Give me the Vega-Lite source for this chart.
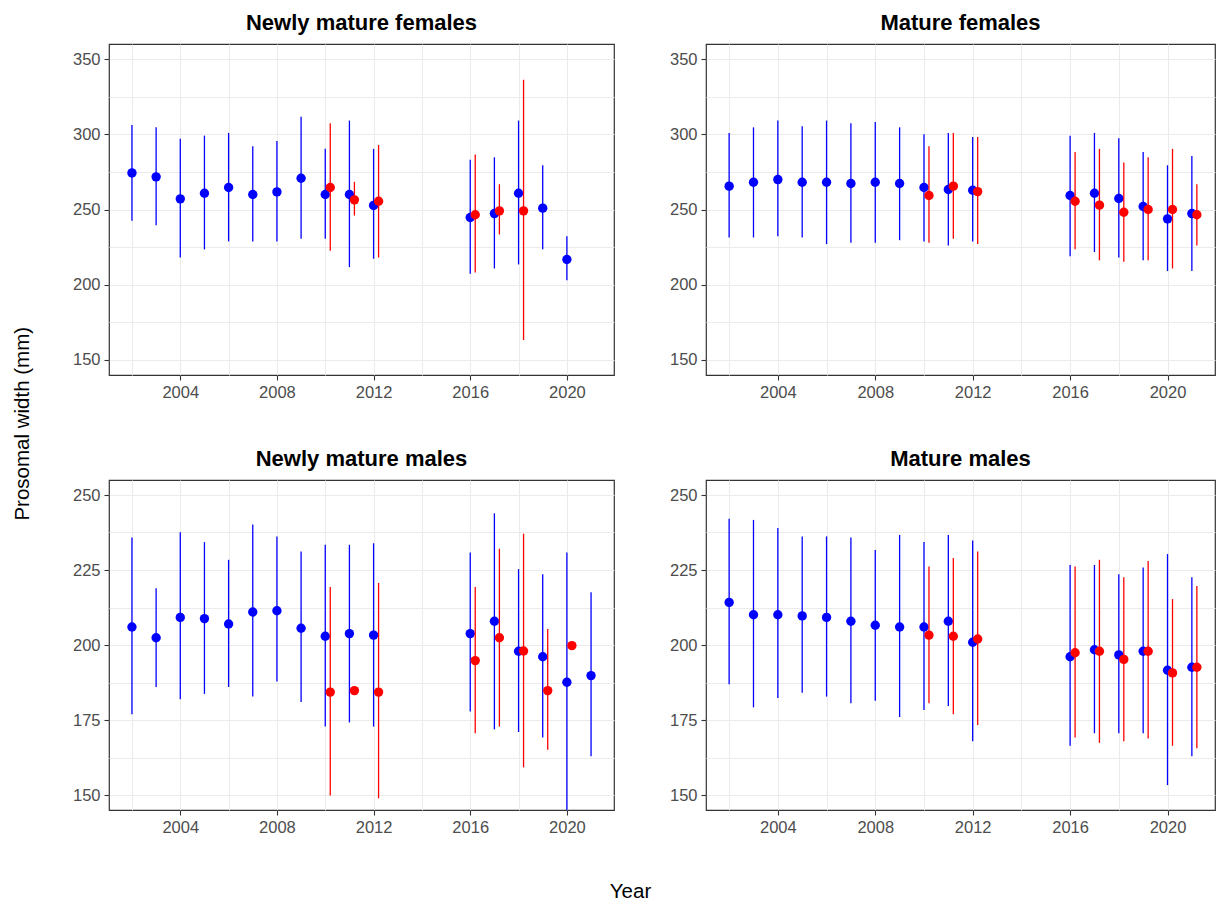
{
  "$schema": "https://vega.github.io/schema/vega-lite/v6.json",
  "background": "white",
  "padding": {"left": 13, "top": 11, "right": 0, "bottom": 0},
  "title": {"text": "Year", "orient": "bottom", "fontSize": 20.5, "fontWeight": "normal", "font": "Liberation Sans", "color": "black", "offset": 46, "dx": 16},
  "datasets": {
    "d": [
      {"panel":"Newly mature females","group":"A","year":2002,"mean":274.3,"lower":242.5,"upper":306.2},
      {"panel":"Newly mature females","group":"A","year":2003,"mean":271.7,"lower":239.6,"upper":304.6},
      {"panel":"Newly mature females","group":"A","year":2004,"mean":257.1,"lower":218.1,"upper":297.1},
      {"panel":"Newly mature females","group":"A","year":2005,"mean":260.8,"lower":223.5,"upper":299.1},
      {"panel":"Newly mature females","group":"A","year":2006,"mean":264.6,"lower":228.8,"upper":300.9},
      {"panel":"Newly mature females","group":"A","year":2007,"mean":260.0,"lower":228.8,"upper":292.0},
      {"panel":"Newly mature females","group":"A","year":2008,"mean":261.7,"lower":228.8,"upper":295.6},
      {"panel":"Newly mature females","group":"A","year":2009,"mean":270.8,"lower":230.5,"upper":311.7},
      {"panel":"Newly mature females","group":"A","year":2010,"mean":260.0,"lower":230.5,"upper":290.3},
      {"panel":"Newly mature females","group":"A","year":2011,"mean":260.0,"lower":211.7,"upper":309.1},
      {"panel":"Newly mature females","group":"A","year":2012,"mean":252.7,"lower":217.3,"upper":290.3},
      {"panel":"Newly mature females","group":"A","year":2016,"mean":244.7,"lower":207.3,"upper":283.0},
      {"panel":"Newly mature females","group":"A","year":2017,"mean":247.3,"lower":210.8,"upper":284.7},
      {"panel":"Newly mature females","group":"A","year":2018,"mean":260.8,"lower":213.5,"upper":309.1},
      {"panel":"Newly mature females","group":"A","year":2019,"mean":250.9,"lower":223.5,"upper":279.4},
      {"panel":"Newly mature females","group":"A","year":2020,"mean":216.8,"lower":202.9,"upper":232.3},
      {"panel":"Newly mature females","group":"B","year":2010,"mean":264.6,"lower":222.6,"upper":307.3},
      {"panel":"Newly mature females","group":"B","year":2011,"mean":256.4,"lower":246.0,"upper":268.4},
      {"panel":"Newly mature females","group":"B","year":2012,"mean":255.5,"lower":218.1,"upper":292.9},
      {"panel":"Newly mature females","group":"B","year":2016,"mean":246.5,"lower":208.2,"upper":286.5},
      {"panel":"Newly mature females","group":"B","year":2017,"mean":249.1,"lower":233.4,"upper":266.8},
      {"panel":"Newly mature females","group":"B","year":2018,"mean":249.1,"lower":163.3,"upper":336.3},

      {"panel":"Mature females","group":"A","year":2002,"mean":265.5,"lower":231.4,"upper":300.9},
      {"panel":"Mature females","group":"A","year":2003,"mean":268.1,"lower":231.4,"upper":304.6},
      {"panel":"Mature females","group":"A","year":2004,"mean":269.9,"lower":232.3,"upper":309.1},
      {"panel":"Mature females","group":"A","year":2005,"mean":268.1,"lower":231.4,"upper":305.3},
      {"panel":"Mature females","group":"A","year":2006,"mean":268.1,"lower":227.0,"upper":309.1},
      {"panel":"Mature females","group":"A","year":2007,"mean":267.3,"lower":227.9,"upper":307.3},
      {"panel":"Mature females","group":"A","year":2008,"mean":268.1,"lower":227.9,"upper":308.2},
      {"panel":"Mature females","group":"A","year":2009,"mean":267.3,"lower":229.6,"upper":304.6},
      {"panel":"Mature females","group":"A","year":2010,"mean":264.6,"lower":228.8,"upper":300.0},
      {"panel":"Mature females","group":"A","year":2011,"mean":263.3,"lower":226.1,"upper":300.9},
      {"panel":"Mature females","group":"A","year":2012,"mean":262.8,"lower":228.8,"upper":298.2},
      {"panel":"Mature females","group":"A","year":2016,"mean":259.3,"lower":219.0,"upper":299.1},
      {"panel":"Mature females","group":"A","year":2017,"mean":260.8,"lower":221.7,"upper":300.9},
      {"panel":"Mature females","group":"A","year":2018,"mean":257.3,"lower":218.1,"upper":297.3},
      {"panel":"Mature females","group":"A","year":2019,"mean":252.0,"lower":216.2,"upper":288.3},
      {"panel":"Mature females","group":"A","year":2020,"mean":243.8,"lower":209.1,"upper":279.4},
      {"panel":"Mature females","group":"A","year":2021,"mean":247.3,"lower":209.1,"upper":285.6},
      {"panel":"Mature females","group":"B","year":2010,"mean":259.3,"lower":227.9,"upper":292.0},
      {"panel":"Mature females","group":"B","year":2011,"mean":265.5,"lower":230.5,"upper":300.9},
      {"panel":"Mature females","group":"B","year":2012,"mean":261.9,"lower":227.0,"upper":298.2},
      {"panel":"Mature females","group":"B","year":2016,"mean":255.5,"lower":223.5,"upper":288.3},
      {"panel":"Mature females","group":"B","year":2017,"mean":252.9,"lower":216.2,"upper":290.3},
      {"panel":"Mature females","group":"B","year":2018,"mean":248.2,"lower":215.3,"upper":281.2},
      {"panel":"Mature females","group":"B","year":2019,"mean":250.0,"lower":216.2,"upper":284.7},
      {"panel":"Mature females","group":"B","year":2020,"mean":250.0,"lower":210.8,"upper":290.3},
      {"panel":"Mature females","group":"B","year":2021,"mean":246.5,"lower":226.1,"upper":266.8},

      {"panel":"Newly mature males","group":"A","year":2002,"mean":206.0,"lower":176.9,"upper":235.8},
      {"panel":"Newly mature males","group":"A","year":2003,"mean":202.4,"lower":186.0,"upper":218.9},
      {"panel":"Newly mature males","group":"A","year":2004,"mean":209.2,"lower":181.9,"upper":237.6},
      {"panel":"Newly mature males","group":"A","year":2005,"mean":208.8,"lower":183.7,"upper":234.3},
      {"panel":"Newly mature males","group":"A","year":2006,"mean":207.0,"lower":186.0,"upper":228.4},
      {"panel":"Newly mature males","group":"A","year":2007,"mean":211.0,"lower":182.8,"upper":240.2},
      {"panel":"Newly mature males","group":"A","year":2008,"mean":211.4,"lower":187.8,"upper":236.2},
      {"panel":"Newly mature males","group":"A","year":2009,"mean":205.6,"lower":181.0,"upper":231.2},
      {"panel":"Newly mature males","group":"A","year":2010,"mean":202.9,"lower":172.8,"upper":233.4},
      {"panel":"Newly mature males","group":"A","year":2011,"mean":203.8,"lower":174.2,"upper":233.4},
      {"panel":"Newly mature males","group":"A","year":2012,"mean":203.3,"lower":172.8,"upper":233.9},
      {"panel":"Newly mature males","group":"A","year":2016,"mean":203.8,"lower":177.8,"upper":230.8},
      {"panel":"Newly mature males","group":"A","year":2017,"mean":207.9,"lower":171.9,"upper":243.9},
      {"panel":"Newly mature males","group":"A","year":2018,"mean":197.9,"lower":171.0,"upper":225.3},
      {"panel":"Newly mature males","group":"A","year":2019,"mean":196.1,"lower":169.2,"upper":223.6},
      {"panel":"Newly mature males","group":"A","year":2020,"mean":187.6,"lower":140.0,"upper":230.8},
      {"panel":"Newly mature males","group":"A","year":2021,"mean":189.8,"lower":162.9,"upper":217.6},
      {"panel":"Newly mature males","group":"B","year":2010,"mean":184.3,"lower":149.8,"upper":219.3},
      {"panel":"Newly mature males","group":"B","year":2011,"mean":184.8,"lower":184.8,"upper":184.8},
      {"panel":"Newly mature males","group":"B","year":2012,"mean":184.3,"lower":148.9,"upper":220.7},
      {"panel":"Newly mature males","group":"B","year":2016,"mean":194.8,"lower":170.6,"upper":219.3},
      {"panel":"Newly mature males","group":"B","year":2017,"mean":202.4,"lower":172.8,"upper":232.1},
      {"panel":"Newly mature males","group":"B","year":2018,"mean":198.0,"lower":159.2,"upper":237.1},
      {"panel":"Newly mature males","group":"B","year":2019,"mean":184.8,"lower":165.1,"upper":205.3},
      {"panel":"Newly mature males","group":"B","year":2020,"mean":199.8,"lower":199.8,"upper":199.8},

      {"panel":"Mature males","group":"A","year":2002,"mean":214.2,"lower":186.9,"upper":242.1},
      {"panel":"Mature males","group":"A","year":2003,"mean":210.1,"lower":179.2,"upper":241.7},
      {"panel":"Mature males","group":"A","year":2004,"mean":210.1,"lower":182.3,"upper":239.0},
      {"panel":"Mature males","group":"A","year":2005,"mean":209.7,"lower":184.1,"upper":236.2},
      {"panel":"Mature males","group":"A","year":2006,"mean":209.2,"lower":182.8,"upper":236.2},
      {"panel":"Mature males","group":"A","year":2007,"mean":207.9,"lower":180.6,"upper":235.8},
      {"panel":"Mature males","group":"A","year":2008,"mean":206.6,"lower":181.4,"upper":231.7},
      {"panel":"Mature males","group":"A","year":2009,"mean":206.0,"lower":176.0,"upper":236.7},
      {"panel":"Mature males","group":"A","year":2010,"mean":206.0,"lower":178.3,"upper":234.3},
      {"panel":"Mature males","group":"A","year":2011,"mean":207.9,"lower":179.7,"upper":236.7},
      {"panel":"Mature males","group":"A","year":2012,"mean":200.9,"lower":167.9,"upper":234.8},
      {"panel":"Mature males","group":"A","year":2016,"mean":196.1,"lower":166.4,"upper":226.7},
      {"panel":"Mature males","group":"A","year":2017,"mean":198.4,"lower":170.6,"upper":226.7},
      {"panel":"Mature males","group":"A","year":2018,"mean":196.7,"lower":170.6,"upper":223.6},
      {"panel":"Mature males","group":"A","year":2019,"mean":197.9,"lower":170.6,"upper":225.8},
      {"panel":"Mature males","group":"A","year":2020,"mean":191.6,"lower":153.3,"upper":230.3},
      {"panel":"Mature males","group":"A","year":2021,"mean":192.6,"lower":162.9,"upper":222.6},
      {"panel":"Mature males","group":"B","year":2010,"mean":203.3,"lower":180.6,"upper":226.2},
      {"panel":"Mature males","group":"B","year":2011,"mean":202.9,"lower":176.9,"upper":229.0},
      {"panel":"Mature males","group":"B","year":2012,"mean":202.0,"lower":173.3,"upper":231.2},
      {"panel":"Mature males","group":"B","year":2016,"mean":197.4,"lower":169.2,"upper":226.2},
      {"panel":"Mature males","group":"B","year":2017,"mean":197.9,"lower":167.4,"upper":228.4},
      {"panel":"Mature males","group":"B","year":2018,"mean":195.2,"lower":167.9,"upper":222.6},
      {"panel":"Mature males","group":"B","year":2019,"mean":197.9,"lower":168.8,"upper":228.0},
      {"panel":"Mature males","group":"B","year":2020,"mean":190.7,"lower":166.4,"upper":215.3},
      {"panel":"Mature males","group":"B","year":2021,"mean":192.6,"lower":165.6,"upper":219.7}
    ]
  },
  "data": {"name": "d"},
  "vconcat": [
    {
      "title": {"text": "Prosomal width (mm)", "orient": "left", "fontSize": 20.5, "fontWeight": "normal", "font": "Liberation Sans", "color": "black", "offset": 38},
      "columns": 2,
      "spacing": {"row": 45, "column": 53},
      "concat": [
        {
          "title": "Newly mature females",
          "width": 505, "height": 331,
          "transform": [{"filter": "datum.panel === 'Newly mature females'"}],
          "encoding": {
            "x": {"field": "year", "type": "quantitative", "title": null, "scale": {"domain": [2001.05, 2021.95], "nice": false, "zero": false},
                  "axis": {"values": [2002,2004,2006,2008,2010,2012,2014,2016,2018,2020], "format": "d", "labelExpr": "datum.value % 4 === 0 ? datum.label : ''", "tickColor": {"condition": {"test": "datum.value % 4 === 0", "value": "#333333"}, "value": "transparent"}}},
            "color": {"field": "group", "type": "nominal", "scale": {"domain": ["A", "B"], "range": ["#0000FF", "#FF0000"]}, "legend": null}
          },
          "layer": [
            {"transform": [{"filter": "datum.group === 'A'"}], "mark": {"type": "rule", "strokeWidth": 1.3, "clip": true},
             "encoding": {"y": {"field": "lower", "type": "quantitative", "title": null, "scale": {"domain": [140, 360], "nice": false, "zero": false},
                                "axis": {"values": [150,175,200,225,250,275,300,325,350], "labelExpr": "datum.value % 50 === 0 ? datum.label : ''", "tickColor": {"condition": {"test": "datum.value % 50 === 0", "value": "#333333"}, "value": "transparent"}}},
                          "y2": {"field": "upper"}}},
            {"transform": [{"filter": "datum.group === 'A'"}], "mark": {"type": "point", "filled": true, "size": 88, "opacity": 1, "clip": true},
             "encoding": {"y": {"field": "mean", "type": "quantitative"}}},
            {"transform": [{"filter": "datum.group === 'B'"}], "mark": {"type": "rule", "strokeWidth": 1.3, "clip": true, "xOffset": 5},
             "encoding": {"y": {"field": "lower", "type": "quantitative"}, "y2": {"field": "upper"}}},
            {"transform": [{"filter": "datum.group === 'B'"}], "mark": {"type": "point", "filled": true, "size": 88, "opacity": 1, "clip": true, "xOffset": 5},
             "encoding": {"y": {"field": "mean", "type": "quantitative"}}}
          ]
        },
        {
          "title": "Mature females",
          "width": 509, "height": 331,
          "transform": [{"filter": "datum.panel === 'Mature females'"}],
          "encoding": {
            "x": {"field": "year", "type": "quantitative", "title": null, "scale": {"domain": [2001.05, 2021.95], "nice": false, "zero": false},
                  "axis": {"values": [2002,2004,2006,2008,2010,2012,2014,2016,2018,2020], "format": "d", "labelExpr": "datum.value % 4 === 0 ? datum.label : ''", "tickColor": {"condition": {"test": "datum.value % 4 === 0", "value": "#333333"}, "value": "transparent"}}},
            "color": {"field": "group", "type": "nominal", "scale": {"domain": ["A", "B"], "range": ["#0000FF", "#FF0000"]}, "legend": null}
          },
          "layer": [
            {"transform": [{"filter": "datum.group === 'A'"}], "mark": {"type": "rule", "strokeWidth": 1.3, "clip": true},
             "encoding": {"y": {"field": "lower", "type": "quantitative", "title": null, "scale": {"domain": [140, 360], "nice": false, "zero": false},
                                "axis": {"values": [150,175,200,225,250,275,300,325,350], "labelExpr": "datum.value % 50 === 0 ? datum.label : ''", "tickColor": {"condition": {"test": "datum.value % 50 === 0", "value": "#333333"}, "value": "transparent"}}},
                          "y2": {"field": "upper"}}},
            {"transform": [{"filter": "datum.group === 'A'"}], "mark": {"type": "point", "filled": true, "size": 88, "opacity": 1, "clip": true},
             "encoding": {"y": {"field": "mean", "type": "quantitative"}}},
            {"transform": [{"filter": "datum.group === 'B'"}], "mark": {"type": "rule", "strokeWidth": 1.3, "clip": true, "xOffset": 5},
             "encoding": {"y": {"field": "lower", "type": "quantitative"}, "y2": {"field": "upper"}}},
            {"transform": [{"filter": "datum.group === 'B'"}], "mark": {"type": "point", "filled": true, "size": 88, "opacity": 1, "clip": true, "xOffset": 5},
             "encoding": {"y": {"field": "mean", "type": "quantitative"}}}
          ]
        },
        {
          "title": "Newly mature males",
          "width": 505, "height": 330,
          "transform": [{"filter": "datum.panel === 'Newly mature males'"}],
          "encoding": {
            "x": {"field": "year", "type": "quantitative", "title": null, "scale": {"domain": [2001.05, 2021.95], "nice": false, "zero": false},
                  "axis": {"values": [2002,2004,2006,2008,2010,2012,2014,2016,2018,2020], "format": "d", "labelExpr": "datum.value % 4 === 0 ? datum.label : ''", "tickColor": {"condition": {"test": "datum.value % 4 === 0", "value": "#333333"}, "value": "transparent"}}},
            "color": {"field": "group", "type": "nominal", "scale": {"domain": ["A", "B"], "range": ["#0000FF", "#FF0000"]}, "legend": null}
          },
          "layer": [
            {"transform": [{"filter": "datum.group === 'A'"}], "mark": {"type": "rule", "strokeWidth": 1.3, "clip": true},
             "encoding": {"y": {"field": "lower", "type": "quantitative", "title": null, "scale": {"domain": [145, 255], "nice": false, "zero": false},
                                "axis": {"values": [150,162.5,175,187.5,200,212.5,225,237.5,250], "labelExpr": "datum.value % 25 === 0 ? datum.label : ''", "tickColor": {"condition": {"test": "datum.value % 25 === 0", "value": "#333333"}, "value": "transparent"}}},
                          "y2": {"field": "upper"}}},
            {"transform": [{"filter": "datum.group === 'A'"}], "mark": {"type": "point", "filled": true, "size": 88, "opacity": 1, "clip": true},
             "encoding": {"y": {"field": "mean", "type": "quantitative"}}},
            {"transform": [{"filter": "datum.group === 'B'"}], "mark": {"type": "rule", "strokeWidth": 1.3, "clip": true, "xOffset": 5},
             "encoding": {"y": {"field": "lower", "type": "quantitative"}, "y2": {"field": "upper"}}},
            {"transform": [{"filter": "datum.group === 'B'"}], "mark": {"type": "point", "filled": true, "size": 88, "opacity": 1, "clip": true, "xOffset": 5},
             "encoding": {"y": {"field": "mean", "type": "quantitative"}}}
          ]
        },
        {
          "title": "Mature males",
          "width": 509, "height": 330,
          "transform": [{"filter": "datum.panel === 'Mature males'"}],
          "encoding": {
            "x": {"field": "year", "type": "quantitative", "title": null, "scale": {"domain": [2001.05, 2021.95], "nice": false, "zero": false},
                  "axis": {"values": [2002,2004,2006,2008,2010,2012,2014,2016,2018,2020], "format": "d", "labelExpr": "datum.value % 4 === 0 ? datum.label : ''", "tickColor": {"condition": {"test": "datum.value % 4 === 0", "value": "#333333"}, "value": "transparent"}}},
            "color": {"field": "group", "type": "nominal", "scale": {"domain": ["A", "B"], "range": ["#0000FF", "#FF0000"]}, "legend": null}
          },
          "layer": [
            {"transform": [{"filter": "datum.group === 'A'"}], "mark": {"type": "rule", "strokeWidth": 1.3, "clip": true},
             "encoding": {"y": {"field": "lower", "type": "quantitative", "title": null, "scale": {"domain": [145, 255], "nice": false, "zero": false},
                                "axis": {"values": [150,162.5,175,187.5,200,212.5,225,237.5,250], "labelExpr": "datum.value % 25 === 0 ? datum.label : ''", "tickColor": {"condition": {"test": "datum.value % 25 === 0", "value": "#333333"}, "value": "transparent"}}},
                          "y2": {"field": "upper"}}},
            {"transform": [{"filter": "datum.group === 'A'"}], "mark": {"type": "point", "filled": true, "size": 88, "opacity": 1, "clip": true},
             "encoding": {"y": {"field": "mean", "type": "quantitative"}}},
            {"transform": [{"filter": "datum.group === 'B'"}], "mark": {"type": "rule", "strokeWidth": 1.3, "clip": true, "xOffset": 5},
             "encoding": {"y": {"field": "lower", "type": "quantitative"}, "y2": {"field": "upper"}}},
            {"transform": [{"filter": "datum.group === 'B'"}], "mark": {"type": "point", "filled": true, "size": 88, "opacity": 1, "clip": true, "xOffset": 5},
             "encoding": {"y": {"field": "mean", "type": "quantitative"}}}
          ]
        }
      ]
    }
  ],
  "config": {
    "font": "Liberation Sans",
    "view": {"stroke": "#333333", "strokeWidth": 1.2},
    "title": {"fontSize": 22, "fontWeight": "bold", "font": "Liberation Sans", "color": "black", "anchor": "middle", "offset": 9},
    "axis": {
      "domain": false,
      "grid": true,
      "gridColor": "#EBEBEB",
      "gridWidth": 1,
      "tickSize": 5,
      "tickWidth": 1.1,
      "labelFont": "Liberation Sans",
      "labelFontSize": 16.5,
      "labelColor": "#4D4D4D",
      "labelPadding": 4
    }
  }
}
